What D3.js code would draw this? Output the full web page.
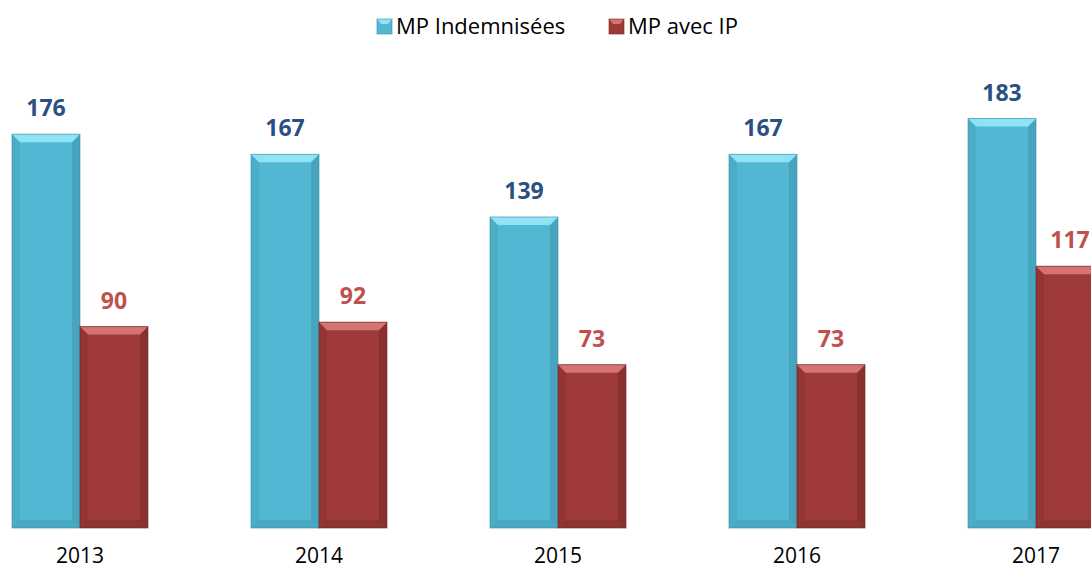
<!DOCTYPE html>
<html>
<head>
<meta charset="utf-8">
<script src="https://cdn.jsdelivr.net/npm/d3@7"></script>
<style>
  body { margin: 0; background: #fff; }
  text { font-family: "Open Sans", "Noto Sans", sans-serif; }
</style>
</head>
<body>
<svg id="chart" width="1091" height="569"></svg>
<script>
const years = ["2013", "2014", "2015", "2016", "2017"];
const indemnisees = [176, 167, 139, 167, 183];
const avecIP = [90, 92, 73, 73, 117];
const seriesNames = ["MP Indemnisées", "MP avec IP"];

const colors = [
  {main: "#52b7d2", light: "#8fe3f5", dark: "#3a8ea6", label: "#2a4f82"},
  {main: "#9e3b39", light: "#d47370", dark: "#6e2524", label: "#c0504d"}
];

const svg = d3.select("#chart");
const baseY = 528;

const x0 = d3.scaleBand().domain(years).range([12, 1104]).paddingInner(0.431).paddingOuter(0);
const x1 = d3.scaleBand().domain([0, 1]).range([0, x0.bandwidth()]);
const y = d3.scaleLinear().domain([0, 183]).range([baseY, 118.5]);

const data = years.map((yr, i) => ({year: yr, vals: [indemnisees[i], avecIP[i]]}));

// bevelled bar
function bar(g, x, w, top, c) {
  const h = baseY - top, b = 8;
  g.append("rect").attr("x", x).attr("y", top).attr("width", w).attr("height", h).attr("fill", c.main);
  // left bevel
  g.append("polygon").attr("points", [[x, top], [x + b, top + b], [x + b, baseY - b], [x, baseY]].join(" "))
    .attr("fill", c.dark).attr("opacity", 0.25);
  // right bevel
  g.append("polygon").attr("points", [[x + w, top], [x + w - b, top + b], [x + w - b, baseY - b], [x + w, baseY]].join(" "))
    .attr("fill", c.dark).attr("opacity", 0.45);
  // bottom bevel
  g.append("polygon").attr("points", [[x, baseY], [x + b, baseY - b], [x + w - b, baseY - b], [x + w, baseY]].join(" "))
    .attr("fill", c.dark).attr("opacity", 0.35);
  // top bevel
  g.append("polygon").attr("points", [[x, top], [x + w, top], [x + w - b, top + b], [x + b, top + b]].join(" "))
    .attr("fill", c.light);
  g.append("rect").attr("x", x).attr("y", top).attr("width", w).attr("height", h)
    .attr("fill", "none").attr("stroke", c.dark).attr("stroke-width", 1).attr("opacity", 0.6);
}

const groups = svg.selectAll("g.grp").data(data).join("g").attr("class", "grp")
  .attr("transform", d => `translate(${x0(d.year)},0)`);

groups.each(function(d) {
  const g = d3.select(this);
  d.vals.forEach((v, s) => {
    bar(g, x1(s), x1.bandwidth(), y(v), colors[s]);
    g.append("text").attr("x", x1(s) + x1.bandwidth() / 2).attr("y", y(v) - 18)
      .attr("text-anchor", "middle").attr("font-size", 23).attr("font-weight", "bold")
      .attr("fill", colors[s].label).text(v);
  });
});

// category axis labels
const xAxis = d3.axisBottom(x0).tickSize(0).tickPadding(0);
svg.append("g").attr("transform", `translate(0,${baseY})`).call(xAxis)
  .call(g => g.select(".domain").remove())
  .selectAll("text").attr("dy", 35).attr("font-size", 21).attr("fill", "#000")
  .style("font-family", "'Open Sans', 'Noto Sans', sans-serif");

// legend
const legX = [377, 609];
const leg = svg.append("g");
seriesNames.forEach((n, i) => {
  const g = leg.append("g").attr("transform", `translate(${legX[i]},19)`);
  g.append("rect").attr("width", 15).attr("height", 15).attr("fill", colors[i].main);
  g.append("polygon").attr("points", "0,0 15,0 11,5 4,5").attr("fill", colors[i].light);
  g.append("rect").attr("width", 15).attr("height", 15).attr("fill", "none").attr("stroke", colors[i].dark).attr("opacity", 0.6);
  g.append("text").attr("x", 19).attr("y", 15).attr("font-size", 22).attr("fill", "#000").text(n);
});
</script>
</body>
</html>
